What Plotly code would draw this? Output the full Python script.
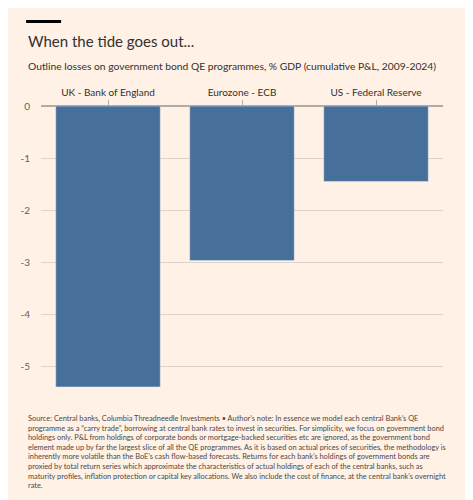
import plotly.graph_objects as go

banks = ["UK - Bank of England", "Eurozone - ECB", "US - Federal Reserve"]
losses = [-5.4, -2.97, -1.45]
y_ticks = [0, -1, -2, -3, -4, -5]

note = ("Source: Central banks, Columbia Threadneedle Investments • Author’s note: In essence we model each central Bank’s QE<br>"
        "programme as a “carry trade”, borrowing at central bank rates to invest in securities. For simplicity, we focus on government bond<br>"
        "holdings only. P&L from holdings of corporate bonds or mortgage-backed securities etc are ignored, as the government bond<br>"
        "element made up by far the largest slice of all the QE programmes. As it is based on actual prices of securities, the methodology is<br>"
        "inherently more volatile than the BoE’s cash flow-based forecasts. Returns for each bank’s holdings of government bonds are<br>"
        "proxied by total return series which approximate the characteristics of actual holdings of each of the central banks, such as<br>"
        "maturity profiles, inflation protection or capital key allocations. We also include the cost of finance, at the central bank’s overnight<br>"
        "rate.")

bg = "#fff1e5"
fig = go.Figure(go.Bar(x=banks, y=losses, marker_color="#466f9a", width=0.78))

fig.update_layout(
    width=473, height=500,
    paper_bgcolor=bg, plot_bgcolor=bg,
    margin=dict(l=33, r=38, t=98, b=120, autoexpand=False),
    font=dict(family="Lato, Noto Sans, sans-serif", color="#33302e"),
    showlegend=False,
)
fig.update_xaxes(side="top", ticks="outside", ticklen=5, tickcolor="#b3aaa2",
                 tickfont=dict(size=10, color="#33302e"), showgrid=False)
fig.update_yaxes(range=[-5.42, 0], tickvals=y_ticks, ticktext=[str(v) for v in y_ticks],
                 gridcolor="#ddd3ca", zeroline=True, zerolinecolor="#b3aaa2",
                 tickfont=dict(size=10, color="#66605c"), ticklabelstandoff=10)

fig.add_shape(type="line", xref="paper", yref="paper", x0=-0.037, x1=0.05, y0=1.3, y1=1.3,
              line=dict(color="black", width=3))
fig.add_annotation(text="When the tide goes out...", xref="paper", yref="paper", x=-0.037, y=1.27,
                   xanchor="left", yanchor="top", showarrow=False, font=dict(size=15, color="#33302e"))
fig.add_annotation(text="Outline losses on government bond QE programmes, % GDP (cumulative P&L, 2009-2024)",
                   xref="paper", yref="paper", x=-0.037, y=1.17, xanchor="left", yanchor="top",
                   showarrow=False, font=dict(size=10.3, color="#33302e"))
fig.add_annotation(text=note, xref="paper", yref="paper", x=-0.037, y=-0.085, xanchor="left", yanchor="top",
                   align="left", showarrow=False, font=dict(size=7.4, color="#4d4845"))

fig.write_html("out.html")
